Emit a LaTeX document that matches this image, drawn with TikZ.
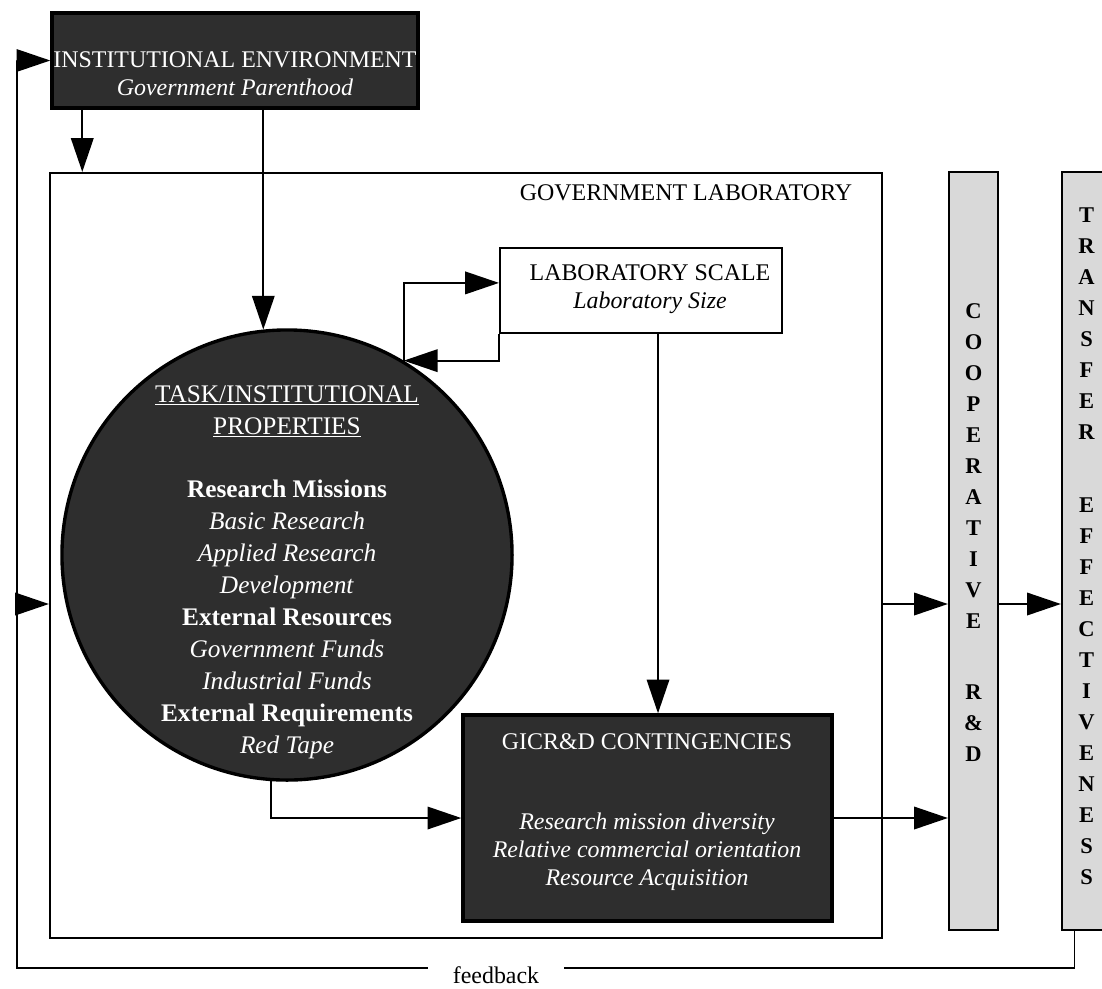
\documentclass[tikz,border=0pt]{standalone}
\usepackage{fontspec}
\setmainfont{Liberation Serif}
\usetikzlibrary{arrows.meta}

\begin{document}
\begin{tikzpicture}[x=0.025cm, y=-0.025cm,
  arr/.style={-{Triangle[length=24pt, width=16pt]}, line width=1.3pt},
  box/.style={draw, line width=1.4pt, inner sep=0pt},
  dark/.style={draw, line width=2.4pt, fill=black!82, inner sep=0pt},
  bar/.style={draw, line width=1.6pt, fill=black!15, inner sep=0pt,
              minimum width=1.225cm, minimum height=18.95cm},
  txt/.style={font=\fontsize{17}{20}\selectfont, align=center, inner sep=0pt},
  wtxt/.style={txt, text=white},
  vtxt/.style={font=\fontsize{16}{22}\selectfont\bfseries, align=center,
               inner sep=0pt, anchor=north},
]
\useasboundingbox (0,0) rectangle (1102,988);

\node[box, minimum width=20.8cm, minimum height=19.125cm] (gl) at (466,555.5) {};
\node[txt] (gltxt) at (686,193) {GOVERNMENT LABORATORY};

\node[dark, minimum width=9.15cm, minimum height=2.375cm] (ie) at (235,60.5) {};
\node[wtxt] (ietxt) at (235,74) {INSTITUTIONAL ENVIRONMENT\\\textit{Government Parenthood}};

\node[box, fill=white, minimum width=7.05cm, minimum height=2.125cm] (ls) at (641,290.5) {};
\node[txt] (lstxt) at (650,289) {LABORATORY SCALE\\\textit{Laboratory Size}};

\node[dark, circle, minimum size=11.25cm] (circ) at (287,555) {};
\node[wtxt, font=\fontsize{18}{22.7}\selectfont] (ctxt) at (287,572)
  {\underline{TASK/INSTITUTIONAL}\\\underline{PROPERTIES}\\[22.7pt]
   \textbf{Research Missions}\\\textit{Basic Research}\\\textit{Applied Research}\\
   \textit{Development}\\\textbf{External Resources}\\\textit{Government Funds}\\
   \textit{Industrial Funds}\\\textbf{External Requirements}\\\textit{Red Tape}};

\node[dark, minimum width=9.225cm, minimum height=5.15cm] (gic) at (647.5,818) {};
\node[wtxt] (gictxt) at (647,812)
  {GICR\&D CONTINGENCIES\\[37pt]
   \textit{Research mission diversity}\\\textit{Relative commercial orientation}\\
   \textit{Resource Acquisition}};

\node[bar] (coop) at (973.5,551) {};
\node[bar] (tr)   at (1086.5,551) {};
\node[vtxt] (cooptxt) at (973.5,303.5)
  {C\\O\\O\\P\\E\\R\\A\\T\\I\\V\\E\\[29pt]R\\\&\\D};
\node[vtxt] (trtxt) at (1086.5,207.5)
  {T\\R\\A\\N\\S\\F\\E\\R\\[30.5pt]E\\F\\F\\E\\C\\T\\I\\V\\E\\N\\E\\S\\S};

\coordinate (midY) at (0,604);
\coordinate (fbL)  at (17,968);

\draw[arr] ([xshift=0.8cm]ie.south west) -- ([xshift=0.8cm]ie.south west |- gl.north);
\draw[arr] (ie.south -| circ.96) -- (circ.96);
\draw[arr] (circ.59) |- ([yshift=0.19cm]ls.west);
\draw[arr] (ls.south west) |- (circ.59);
\draw[arr] ([xshift=0.425cm]ls.south) -- ([xshift=0.425cm]ls.south |- gic.north);
\draw[arr] (circ.266) |- (gic.west);
\draw[arr] (gic.east) -- (gic.east -| coop.west);
\draw[arr] (gl.east |- midY) -- (coop.west |- midY);
\draw[arr] (coop.east |- midY) -- (tr.west |- midY);
\draw[arr] ([xshift=-0.3cm]tr.south) |- (fbL) |- (ie.west);
\draw[arr] (fbL |- midY) -- (gl.west |- midY);
\node[txt, fill=white, inner xsep=0.62cm, inner ysep=3pt] (fblbl) at (496,975) {feedback};
\end{tikzpicture}
\end{document}
